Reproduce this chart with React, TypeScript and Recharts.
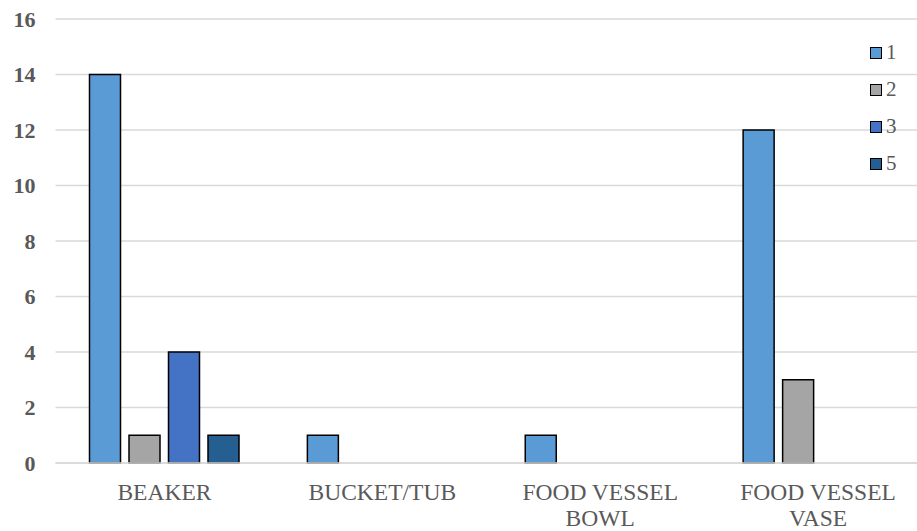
import { BarChart, Bar, XAxis, YAxis, CartesianGrid, Legend } from "recharts";

const categories = ["BEAKER", "BUCKET/TUB", "FOOD VESSEL BOWL", "FOOD VESSEL VASE"];
const seriesNames = ["1", "2", "3", "5"];
const values1 = [14, 1, 1, 12];
const values2 = [1, 0, 0, 3];
const values3 = [4, 0, 0, 0];
const values5 = [1, 0, 0, 0];
const yTicks = [0, 2, 4, 6, 8, 10, 12, 14, 16];

const colors = ["#5B9BD5", "#A5A5A5", "#4472C4", "#255E91"];
const serif = "Liberation Serif, Tinos, Times New Roman, DejaVu Serif, serif";

const data = categories.map((name, i) => ({
  name,
  s1: values1[i],
  s2: values2[i],
  s3: values3[i],
  s5: values5[i],
}));

const keys = ["s1", "s2", "s3", "s5"];

// category labels wrap the last word onto a second line when there are 3+ words
function CategoryTick({ x, y, payload }: any) {
  const words = String(payload.value).split(" ");
  const lines =
    words.length > 2 ? [words.slice(0, -1).join(" "), words[words.length - 1]] : [payload.value];
  return (
    <text x={x} y={y + 35} textAnchor="middle" fill="#595959" fontSize={23.5} fontFamily={serif}>
      {lines.map((l: string, i: number) => (
        <tspan key={i} x={x} dy={i === 0 ? 0 : 26}>
          {l}
        </tspan>
      ))}
    </text>
  );
}

function LegendBox({ payload }: any) {
  return (
    <div>
      {(payload || []).map((p: any) => (
        <div key={p.value} style={{ display: "flex", alignItems: "center", height: 37 }}>
          <span
            style={{
              width: 10,
              height: 10,
              background: p.color,
              border: "1.5px solid #000",
              marginRight: 4,
            }}
          />
          <span style={{ fontFamily: serif, fontSize: 21, color: "#595959" }}>{p.value}</span>
        </div>
      ))}
    </div>
  );
}

export default function App() {
  return (
    <div
      style={{
        position: "absolute",
        left: 0,
        top: 0,
        width: 917,
        height: 531,
        overflow: "hidden",
        background: "#fff",
      }}
    >
      <BarChart
        width={935}
        height={531}
        data={data}
        margin={{ top: 19, right: 8, bottom: 8, left: 0 }}
        barSize={31}
        barGap={8.5}
      >
        <CartesianGrid vertical={false} stroke="#D9D9D9" strokeWidth={1.3} />
        <XAxis
          dataKey="name"
          axisLine={{ stroke: "#D9D9D9", strokeWidth: 1.3 }}
          tickLine={false}
          tickSize={0}
          tick={<CategoryTick />}
          height={60}
          interval={0}
        />
        <YAxis
          width={55.5}
          domain={[0, 16]}
          ticks={yTicks}
          axisLine={false}
          tickLine={false}
          tickSize={0}
          tickMargin={20}
          tick={{ fill: "#595959", fontSize: 22, fontWeight: "bold", fontFamily: serif }}
        />
        <Legend
          layout="vertical"
          align="center"
          verticalAlign="middle"
          wrapperStyle={{ left: 870, top: 34, width: 60 }}
          content={<LegendBox />}
        />
        {keys.map((k, i) => (
          <Bar
            key={k}
            dataKey={k}
            name={seriesNames[i]}
            fill={colors[i]}
            stroke="#000"
            strokeWidth={1.5}
            isAnimationActive={false}
          />
        ))}
      </BarChart>
    </div>
  );
}
